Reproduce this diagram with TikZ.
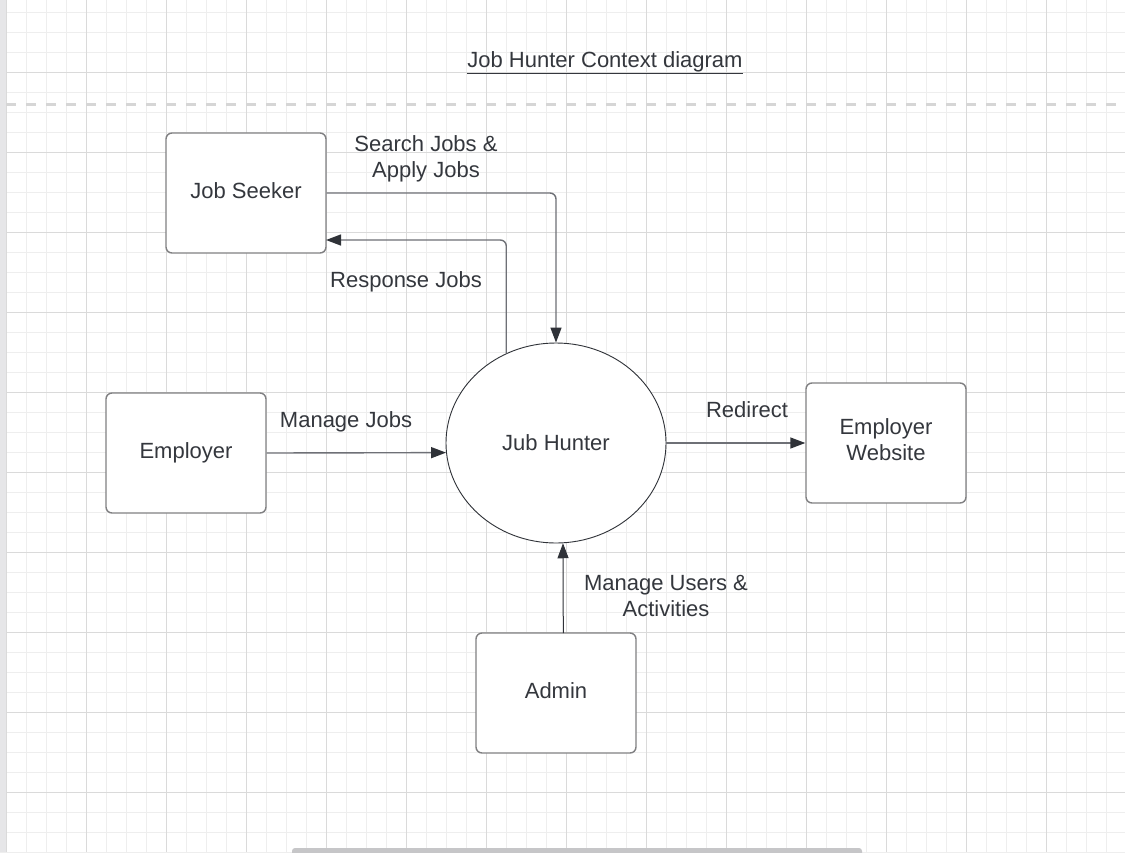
\documentclass[tikz,border=0pt]{standalone}
\usepackage{fontspec}
\setmainfont{Liberation Sans}
\usetikzlibrary{arrows.meta,shapes.geometric,calc}
\definecolor{textc}{RGB}{52,55,61}
\definecolor{boxc}{RGB}{128,128,130}
\definecolor{linec}{RGB}{110,112,118}
\definecolor{tipc}{RGB}{47,50,56}
\definecolor{gridminor}{RGB}{238,238,238}
\definecolor{gridmajor}{RGB}{218,218,218}
\definecolor{dashc}{RGB}{214,214,214}
\definecolor{barc}{RGB}{230,230,232}
\definecolor{scrollc}{RGB}{198,198,200}
\tikzset{
  lbl/.style={text=textc, font=\fontsize{22}{26}\selectfont, align=center, inner sep=0pt},
  boxnode/.style={draw=boxc, line width=1.4pt, fill=white, rounded corners=6pt,
    minimum width=160pt, minimum height=120pt, text=textc,
    font=\fontsize{22}{26}\selectfont, align=center},
  hubnode/.style={ellipse, draw=tipc, line width=0.9pt, fill=white,
    minimum width=220pt, minimum height=200pt, inner sep=0pt, text=textc,
    font=\fontsize{22}{26}\selectfont},
  arr/.style={draw=linec, line width=1.4pt, rounded corners=6pt,
    -{Triangle[length=15pt,width=11pt,color=tipc]}}
}
\begin{document}
\begin{tikzpicture}[x=1pt,y=-1pt]
\useasboundingbox (0,0) rectangle (1125,852);
\fill[white] (0,0) rectangle (1125,852);
% grid
\foreach \k in {0,...,56} {
  \draw[gridminor, line width=1pt] ({6.7+20*\k},0) -- ({6.7+20*\k},852);
}
\foreach \k in {0,...,42} {
  \draw[gridminor, line width=1pt] (0,{12.7+20*\k}) -- (1125,{12.7+20*\k});
}
\foreach \k in {0,...,14} {
  \draw[gridmajor, line width=1pt] ({6.7+80*\k},0) -- ({6.7+80*\k},852);
}
\foreach \k in {0,...,10} {
  \draw[gridmajor, line width=1pt] (0,{72.7+80*\k}) -- (1125,{72.7+80*\k});
}
% left bar and bottom scrollbar
\fill[barc] (0,0) rectangle (6,852);
\fill[scrollc, rounded corners=3pt] (292,848) rectangle (862,858);
% dashed separator
\draw[dashc, line width=3pt, dash pattern=on 10pt off 10pt] (6,104) -- (1125,104);
% title
\node[lbl] (title) at (605,63) {\underline{Job Hunter Context diagram}};
% nodes
\node[boxnode] (seeker) at (246,193) {};
\node[lbl] (seekertext) at (246,191) {Job Seeker};
\node[boxnode] (employer) at (186,453) {};
\node[lbl] (employertext) at (186,453) {Employer};
\node[boxnode] (website) at (886,443) {};
\node[lbl] (websitetext) at (886,440) {Employer\\Website};
\node[boxnode] (admin) at (556,693) {};
\node[lbl] (admintext) at (556,691) {Admin};
\node[hubnode] (hub) at (556,443) {Jub Hunter};
\coordinate (seekin) at (326,240);
\coordinate (admout) at (563.3,633);
% connectors
\draw[arr] (seeker.east) -| (hub.north);
\draw[arr] (hub.119.9) |- (seekin);
\draw[arr] (employer.east) -- (hub.185.2);
\draw[arr] (hub.east) -- (website.west);
\draw[arr, draw=tipc, line width=1pt] (admout) -- (hub.274.2);
% labels
\node[lbl] (l1) at (426,159) {Search Jobs \&\\Apply Jobs};
\node[lbl] (l2) at (406,282) {Response Jobs};
\node[lbl] (l3) at (346,422) {Manage Jobs};
\node[lbl] (l4) at (747,410) {Redirect};
\node[lbl] (l5) at (666,596) {Manage Users \&\\Activities};
\end{tikzpicture}
\end{document}
